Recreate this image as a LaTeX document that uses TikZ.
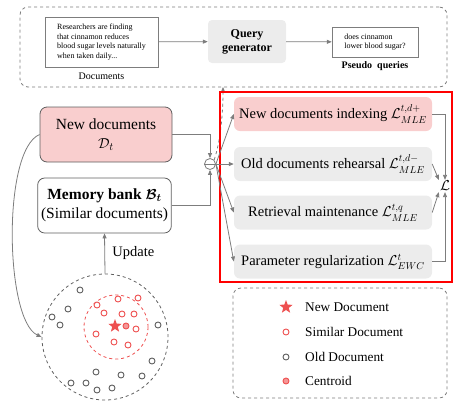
\documentclass[tikz,border=0pt]{standalone}
\usepackage{fontspec}
\setmainfont{Liberation Serif}
\usepackage{amsmath,bm}
\usetikzlibrary{positioning,arrows.meta,shapes.geometric}
\definecolor{lpink}{RGB}{249,206,206}
\definecolor{lgray}{RGB}{236,236,236}
\definecolor{agray}{RGB}{125,125,125}
\definecolor{dgray}{RGB}{95,95,95}
\definecolor{dred}{RGB}{238,80,80}

\begin{document}
\begin{tikzpicture}[x=1pt,y=-1pt,
  >={Triangle[length=5pt,width=4pt]},
  lbox/.style={rounded corners=6pt,align=center,minimum width=198pt,minimum height=34pt,font=\fontsize{14.5}{17}\selectfont,fill=#1},
  lbox/.default=lgray,
  doc/.style={draw=agray,align=left,font=\fontsize{8}{9.6}\selectfont},
  sim/.style={circle,draw=dred,line width=0.9pt,inner sep=0,minimum size=6pt},
  old/.style={circle,draw=dgray,line width=0.9pt,inner sep=0,minimum size=6pt},
  cen/.style={circle,draw=dred,fill=dred!60,line width=0.9pt,inner sep=0,minimum size=6pt},
  newdoc/.style={star,star points=5,star point ratio=2.4,fill=dred,inner sep=0,minimum size=14pt},
  conn/.style={->,agray,thick}]
\useasboundingbox (0,0) rectangle (454,402);

% query generation strip
\node[draw=agray,dashed,thick,rounded corners=8pt,minimum width=427pt,minimum height=80pt] (gen) at (233.5,47) {};
\node[doc,minimum width=113pt,minimum height=50pt] (docs) at (101.5,42) {Researchers are finding\\that cinnamon reduces\\blood sugar levels naturally\\when taken daily...};
\node[below=2pt of docs,font=\fontsize{10}{12}\selectfont] (docslbl) {Documents};
\node[fill=lgray,rounded corners=4pt,align=center,font=\bfseries\fontsize{12}{14}\selectfont,minimum width=78pt,minimum height=43pt] (qg) at (247,41.5) {Query\\generator};
\node[doc,minimum width=86pt,minimum height=30pt] (pq) at (375,42) {does cinnamon\\lower blood sugar?};
\node[below=1pt of pq,font=\bfseries\fontsize{10}{12}\selectfont] (pqlbl) {Pseudo\ \ queries};
\draw[conn] (docs) -- (qg);
\draw[conn] (qg) -- (pq);

% inputs
\node[draw=dgray,thick,rounded corners=7pt,fill=lpink,align=center,minimum width=132pt,minimum height=55pt,font=\fontsize{15.5}{19}\selectfont] (nd) at (106,134.5) {New documents\\$\mathcal{D}_t$};
\node[draw=dgray,thick,rounded corners=7pt,fill=white,align=center,minimum width=133pt,minimum height=55pt,font=\fontsize{15.5}{19}\selectfont] (mb) at (104.5,205.5) {\textbf{Memory bank} $\bm{\mathcal{B}_t}$\\(Similar documents)};
\node[circle,draw=agray,thick,minimum size=11pt,inner sep=0] (cat) at (210,164) {};
\draw[agray,thick] (cat.west) -- (cat.east);
\draw[conn] (nd.east) -| (cat.north);
\draw[conn] (mb.east) -| (cat.south);
\coordinate (qin) at (223,87);
\draw[conn,dashed] (cat.north east) .. controls (221,140) and (223,110) .. (qin);

% losses
\node[draw=red,line width=1.5pt,minimum width=232pt,minimum height=190pt] (loss) at (336,187) {};
\node[lbox=lpink] (l1) at (333,114) {New documents indexing $\mathcal{L}^{t,d+}_{MLE}$};
\node[lbox] (l2) at (333,164) {Old documents rehearsal $\mathcal{L}^{t,d-}_{MLE}$};
\node[lbox] (l3) at (333,212.5) {Retrieval maintenance $\mathcal{L}^{t,q}_{MLE}$};
\node[lbox] (l4) at (333,261.5) {Parameter regularization $\mathcal{L}^{t}_{EWC}$};
\foreach \b in {l1,l2,l3,l4} \draw[conn] (cat.east) -- (\b.west);
\node[font=\fontsize{15}{17}\selectfont,inner sep=1pt] (tot) at (445,186) {$\mathcal{L}$};
\draw[conn] (l1.east) -| (tot.north);
\draw[conn] (l4.east) -| (tot.south);
\draw[conn] (l2.east) -- (tot.north west);
\draw[conn] (l3.east) -- (tot.south west);

% memory pool
\node[circle,draw=dgray,dashed,thick,minimum size=126pt] (pool) at (105,337) {};
\node[circle,draw=dred,dashed,thick,minimum size=64pt] (simc) at (116,327) {};
\draw[conn] (pool.north) -- node[right=4pt,text=black,font=\fontsize{14.5}{17}\selectfont]{Update} (mb.south);
\draw[conn] (nd.west) .. controls (2,150) and (5,320) .. (pool.west);
\node[newdoc] (star) at (115,326) {};
\node[cen] (cent) at (126,326) {};
\foreach \p [count=\i] in {(97,305),(118,299),(138,298),(104,313),(122,314),(134,314),(136,329),(96,334),(114,342),(128,345)}
  \node[sim] (s\i) at \p {};
\foreach \p [count=\i] in {(80,290),(68,309),(52,317),(60,325),(158,325),(152,361),(96,372),(121,375),(142,376),(71,383),(86,383),(97,390),(112,388)}
  \node[old] (o\i) at \p {};

% legend
\node[draw=agray,dashed,thick,rounded corners=8pt,minimum width=214pt,minimum height=110pt] (leg) at (340,343) {};
\node[newdoc] (k1) at (286,307) {};
\node[sim] (k2) at (286,332) {};
\node[old] (k3) at (286,357) {};
\node[cen] (k4) at (286,381) {};
\foreach \k/\t in {k1/New Document,k2/Similar Document,k3/Old Document,k4/Centroid}
  \node[right=19pt of \k.center,font=\fontsize{13.3}{15}\selectfont,inner sep=0] (\k t) {\t};
\end{tikzpicture}
\end{document}
